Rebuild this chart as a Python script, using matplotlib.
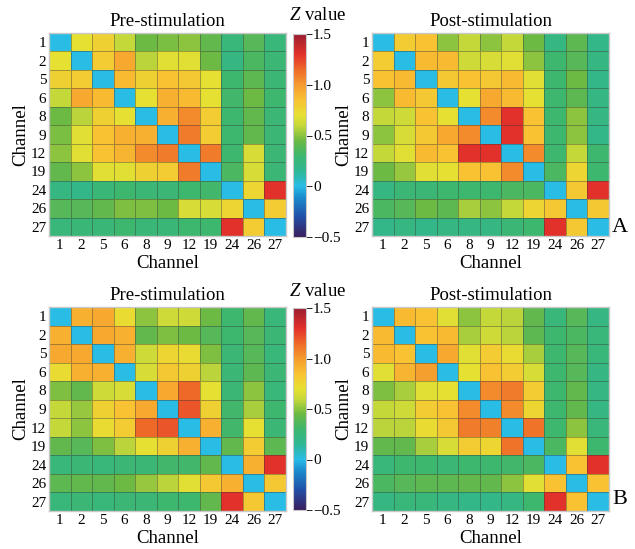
import numpy as np
import matplotlib
matplotlib.use("Agg")
import matplotlib.pyplot as plt
from matplotlib.colors import LinearSegmentedColormap

plt.rcParams['font.family'] = ['Liberation Serif', 'DejaVu Serif']
plt.rcParams['mathtext.fontset'] = 'custom'
plt.rcParams['mathtext.it'] = 'Liberation Serif:italic'

channels = ['1', '2', '5', '6', '8', '9', '12', '19', '24', '26', '27']

# panel A, pre-stimulation
a_pre = [
    [0.00, 0.70, 0.78, 0.60, 0.45, 0.47, 0.50, 0.42, 0.25, 0.38, 0.25],
    [0.70, 0.00, 0.80, 0.95, 0.58, 0.68, 0.68, 0.45, 0.22, 0.35, 0.28],
    [0.78, 0.80, 0.00, 0.88, 0.78, 0.85, 0.82, 0.70, 0.30, 0.40, 0.28],
    [0.60, 0.95, 0.88, 0.00, 0.70, 0.92, 0.88, 0.70, 0.32, 0.45, 0.30],
    [0.45, 0.58, 0.78, 0.70, 0.00, 0.92, 1.05, 0.80, 0.30, 0.42, 0.28],
    [0.47, 0.68, 0.85, 0.92, 0.92, 0.00, 1.10, 0.80, 0.30, 0.42, 0.28],
    [0.50, 0.68, 0.85, 0.90, 1.05, 1.10, 0.00, 1.10, 0.30, 0.65, 0.28],
    [0.42, 0.50, 0.68, 0.68, 0.78, 0.80, 1.10, 0.00, 0.35, 0.65, 0.28],
    [0.22, 0.20, 0.27, 0.30, 0.28, 0.28, 0.30, 0.32, 0.00, 0.75, 1.30],
    [0.38, 0.38, 0.42, 0.48, 0.48, 0.45, 0.65, 0.65, 0.75, 0.00, 0.80],
    [0.25, 0.27, 0.27, 0.30, 0.27, 0.27, 0.30, 0.30, 1.30, 0.80, 0.00],
]

# panel A, post-stimulation
a_post = [
    [0.00, 0.80, 0.85, 0.50, 0.60, 0.50, 0.60, 0.45, 0.22, 0.40, 0.20],
    [0.80, 0.00, 0.88, 0.88, 0.62, 0.65, 0.68, 0.50, 0.30, 0.38, 0.22],
    [0.85, 0.88, 0.00, 0.82, 0.85, 0.82, 0.88, 0.68, 0.30, 0.45, 0.20],
    [0.50, 0.88, 0.82, 0.00, 0.70, 0.95, 0.88, 0.70, 0.30, 0.40, 0.22],
    [0.60, 0.62, 0.85, 0.70, 0.00, 1.05, 1.30, 0.85, 0.30, 0.50, 0.22],
    [0.50, 0.65, 0.82, 0.95, 1.05, 0.00, 1.30, 0.85, 0.30, 0.50, 0.20],
    [0.60, 0.68, 0.88, 0.85, 1.30, 1.30, 0.00, 1.05, 0.30, 0.60, 0.30],
    [0.45, 0.52, 0.68, 0.70, 0.85, 0.85, 1.05, 0.00, 0.35, 0.75, 0.30],
    [0.22, 0.28, 0.28, 0.30, 0.30, 0.30, 0.35, 0.35, 0.00, 0.82, 1.30],
    [0.35, 0.38, 0.45, 0.40, 0.55, 0.50, 0.60, 0.75, 0.82, 0.00, 0.82],
    [0.20, 0.22, 0.20, 0.22, 0.22, 0.22, 0.28, 0.30, 1.30, 0.82, 0.00],
]

# panel B, pre-stimulation
b_pre = [
    [0.00, 0.92, 0.95, 0.72, 0.50, 0.62, 0.62, 0.45, 0.30, 0.42, 0.25],
    [0.92, 0.00, 0.95, 0.92, 0.42, 0.48, 0.45, 0.38, 0.30, 0.38, 0.28],
    [0.95, 0.95, 0.00, 0.92, 0.62, 0.75, 0.72, 0.48, 0.28, 0.38, 0.25],
    [0.72, 0.92, 0.92, 0.00, 0.65, 0.82, 0.78, 0.58, 0.28, 0.40, 0.28],
    [0.48, 0.42, 0.62, 0.65, 0.00, 0.95, 1.15, 0.70, 0.28, 0.50, 0.25],
    [0.60, 0.52, 0.78, 0.85, 0.95, 0.00, 1.20, 0.78, 0.32, 0.55, 0.30],
    [0.60, 0.50, 0.72, 0.80, 1.15, 1.20, 0.00, 0.92, 0.32, 0.70, 0.28],
    [0.42, 0.38, 0.48, 0.58, 0.70, 0.78, 0.92, 0.00, 0.42, 0.80, 0.40],
    [0.25, 0.28, 0.25, 0.28, 0.28, 0.32, 0.32, 0.42, 0.00, 0.92, 1.30],
    [0.40, 0.42, 0.42, 0.45, 0.52, 0.58, 0.68, 0.82, 0.92, 0.00, 0.82],
    [0.25, 0.28, 0.25, 0.28, 0.28, 0.30, 0.30, 0.42, 1.30, 0.82, 0.00],
]

# panel B, post-stimulation
b_post = [
    [0.00, 0.88, 0.85, 0.68, 0.50, 0.60, 0.58, 0.42, 0.25, 0.38, 0.22],
    [0.88, 0.00, 0.85, 0.88, 0.55, 0.62, 0.58, 0.40, 0.30, 0.35, 0.25],
    [0.88, 0.85, 0.00, 0.95, 0.68, 0.80, 0.72, 0.55, 0.30, 0.38, 0.25],
    [0.68, 0.90, 0.98, 0.00, 0.70, 0.85, 0.80, 0.65, 0.30, 0.38, 0.22],
    [0.48, 0.55, 0.68, 0.70, 0.00, 1.05, 1.10, 0.80, 0.30, 0.42, 0.22],
    [0.60, 0.62, 0.80, 0.85, 1.05, 0.00, 1.05, 0.75, 0.30, 0.42, 0.22],
    [0.58, 0.58, 0.72, 0.82, 1.10, 1.08, 0.00, 1.12, 0.30, 0.50, 0.25],
    [0.42, 0.42, 0.55, 0.65, 0.80, 0.75, 1.12, 0.00, 0.35, 0.68, 0.30],
    [0.25, 0.30, 0.30, 0.28, 0.30, 0.30, 0.32, 0.35, 0.00, 0.85, 1.30],
    [0.35, 0.38, 0.40, 0.40, 0.42, 0.42, 0.50, 0.68, 0.85, 0.00, 0.85],
    [0.22, 0.25, 0.25, 0.22, 0.20, 0.20, 0.22, 0.30, 1.30, 0.85, 0.00],
]

cbar_ticks = [-0.5, 0, 0.5, 1.0, 1.5]
cbar_labels = ['\u22120.5', '0', '0.5', '1.0', '1.5']

vmin, vmax = -0.5, 1.5
nodes = [
    (-0.5, '#3a1f5e'), (-0.3, '#2050a8'), (-0.1, '#1a90d0'), (0.0, '#29bde6'),
    (0.15, '#30b794'), (0.3, '#3db66e'), (0.45, '#6cb944'), (0.6, '#c6d83a'),
    (0.7, '#e6e032'), (0.85, '#f8c232'), (1.0, '#f59c2e'), (1.15, '#ee6a28'),
    (1.3, '#e3302a'), (1.5, '#9b1e30'),
]
cmap = LinearSegmentedColormap.from_list(
    'zmap', [((v - vmin) / (vmax - vmin), c) for v, c in nodes])

W, H = 635, 549
fig = plt.figure(figsize=(W / 100, H / 100), dpi=100)


def px(x0, y0, x1, y1):
    return [x0 / W, 1 - y1 / H, (x1 - x0) / W, (y1 - y0) / H]


def heat(rect, data, title):
    ax = fig.add_axes(rect)
    m = np.array(data)
    n = len(channels)
    mesh = ax.pcolormesh(np.arange(n + 1), np.arange(n + 1), m, cmap=cmap,
                         vmin=vmin, vmax=vmax,
                         edgecolors=(0.2, 0.2, 0.2, 0.4), linewidth=0.6)
    ax.set_xlim(0, n)
    ax.set_ylim(n, 0)
    ax.set_xticks(np.arange(n) + 0.5)
    ax.set_yticks(np.arange(n) + 0.5)
    ax.set_xticklabels(channels)
    ax.set_yticklabels(channels)
    ax.tick_params(length=0, labelsize=11, pad=2)
    for s in ax.spines.values():
        s.set_color('#c8c8c8')
        s.set_linewidth(1.0)
    ax.set_title(title, fontsize=13.5, pad=5)
    ax.set_xlabel('Channel', fontsize=13.5, labelpad=2)
    ax.set_ylabel('Channel', fontsize=13.5, labelpad=1)
    return mesh


def cbar(rect, mesh, ytop):
    cax = fig.add_axes(rect)
    cb = fig.colorbar(mesh, cax=cax, ticks=cbar_ticks)
    cb.ax.set_yticklabels(cbar_labels)
    cb.ax.tick_params(labelsize=11, length=4, width=0.6, pad=1)
    cb.outline.set_edgecolor('#c8c8c8')
    fig.text(318 / W, 1 - ytop / H, '$Z$ value', fontsize=13.5,
             ha='center', va='center')


m1 = heat(px(49, 33, 286, 236), a_pre, 'Pre-stimulation')
heat(px(372, 33, 609, 236), a_post, 'Post-stimulation')
cbar(px(293, 34, 306, 237), m1, 16)

m2 = heat(px(49, 307, 286, 511), b_pre, 'Pre-stimulation')
heat(px(372, 307, 609, 511), b_post, 'Post-stimulation')
cbar(px(293, 308, 306, 510), m2, 291)

fig.text(620 / W, 1 - 228 / H, 'A', fontsize=16, ha='center', va='center')
fig.text(620 / W, 1 - 500 / H, 'B', fontsize=16, ha='center', va='center')

fig.savefig('out.png', dpi=100)
